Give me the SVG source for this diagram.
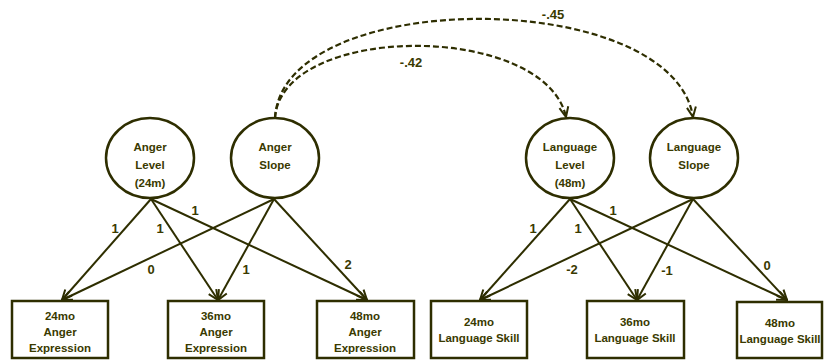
<svg xmlns="http://www.w3.org/2000/svg" width="825" height="364" viewBox="0 0 825 364">
<defs>
<marker id="ah" viewBox="0 0 12 12" refX="11" refY="6" markerWidth="12" markerHeight="12" markerUnits="userSpaceOnUse" orient="auto">
<path d="M1,1.5 L11,6 L1,10.5" fill="none" stroke="#2e2e00" stroke-width="2"/>
</marker>
<style>
.n{fill:#fff;stroke:#2e2e00;stroke-width:2.5}
.t{font-family:"Liberation Sans",Arial,sans-serif;font-weight:bold;font-size:11.5px;fill:#3a3a00;text-anchor:middle}
.e{stroke:#2e2e00;stroke-width:2;fill:none;marker-end:url(#ah)}
.d{stroke:#2e2e00;stroke-width:2.2;fill:none;stroke-dasharray:6,3;marker-end:url(#ah)}
.l{font-family:"Liberation Sans",Arial,sans-serif;font-weight:bold;font-size:13px;fill:#3a3a00;text-anchor:middle}
</style>
</defs>
<rect width="825" height="364" fill="#fff"/>
<g id="connectors">
<line class="e" x1="151" y1="199" x2="62" y2="300"/>
<line class="e" x1="151" y1="199" x2="218" y2="300"/>
<line class="e" x1="151" y1="199" x2="367" y2="300"/>
<line class="e" x1="274" y1="199" x2="62" y2="300"/>
<line class="e" x1="274" y1="199" x2="218" y2="300"/>
<line class="e" x1="274" y1="199" x2="367" y2="300"/>
<line class="e" x1="570" y1="199" x2="480" y2="300"/>
<line class="e" x1="570" y1="199" x2="637" y2="300"/>
<line class="e" x1="570" y1="199" x2="787" y2="300"/>
<line class="e" x1="693" y1="199" x2="480" y2="300"/>
<line class="e" x1="693" y1="199" x2="637" y2="300"/>
<line class="e" x1="693" y1="199" x2="787" y2="300"/>
<path class="d" d="M275,118 C282,22 545,22 566,117"/>
<path class="d" d="M275,118 C282,-14 672,-14 693,117"/>
<text class="l" x="115" y="233">1</text>
<text class="l" x="160" y="233">1</text>
<text class="l" x="195" y="215">1</text>
<text class="l" x="151" y="274">0</text>
<text class="l" x="246" y="274">1</text>
<text class="l" x="348" y="269">2</text>
<text class="l" x="533" y="233">1</text>
<text class="l" x="578" y="233">1</text>
<text class="l" x="613" y="215">1</text>
<text class="l" x="572" y="274">-2</text>
<text class="l" x="667" y="275">-1</text>
<text class="l" x="767" y="270">0</text>
<text class="l" x="411" y="67">-.42</text>
<text class="l" x="553" y="19">-.45</text>
</g>
<g id="anger-level"><ellipse class="n" cx="150" cy="158" rx="44" ry="40"/><text class="t" x="150" y="151">Anger</text><text class="t" x="150" y="169">Level</text><text class="t" x="150" y="187">(24m)</text></g>
<g id="anger-slope"><ellipse class="n" cx="275" cy="158" rx="44" ry="40"/><text class="t" x="275" y="151">Anger</text><text class="t" x="275" y="169">Slope</text></g>
<g id="language-level"><ellipse class="n" cx="570" cy="158" rx="44" ry="40"/><text class="t" x="570" y="151">Language</text><text class="t" x="570" y="169">Level</text><text class="t" x="570" y="187">(48m)</text></g>
<g id="language-slope"><ellipse class="n" cx="694" cy="158" rx="44" ry="40"/><text class="t" x="694" y="151">Language</text><text class="t" x="694" y="169">Slope</text></g>
<g id="anger24"><rect class="n" x="12" y="301" width="96" height="57"/><text class="t" x="60" y="320">24mo</text><text class="t" x="60" y="336">Anger</text><text class="t" x="60" y="352">Expression</text></g>
<g id="anger36"><rect class="n" x="168" y="301" width="96" height="57"/><text class="t" x="216" y="320">36mo</text><text class="t" x="216" y="336">Anger</text><text class="t" x="216" y="352">Expression</text></g>
<g id="anger48"><rect class="n" x="317" y="301" width="97" height="57"/><text class="t" x="365" y="320">48mo</text><text class="t" x="365" y="336">Anger</text><text class="t" x="365" y="352">Expression</text></g>
<g id="lang24"><rect class="n" x="431" y="301" width="96" height="57"/><text class="t" x="479" y="326">24mo</text><text class="t" x="479" y="342">Language Skill</text></g>
<g id="lang36"><rect class="n" x="587" y="301" width="97" height="57"/><text class="t" x="635" y="326">36mo</text><text class="t" x="635" y="342">Language Skill</text></g>
<g id="lang48"><rect class="n" x="737" y="302" width="85" height="56"/><text class="t" x="780" y="327">48mo</text><text class="t" x="780" y="343">Language Skill</text></g>
</svg>
